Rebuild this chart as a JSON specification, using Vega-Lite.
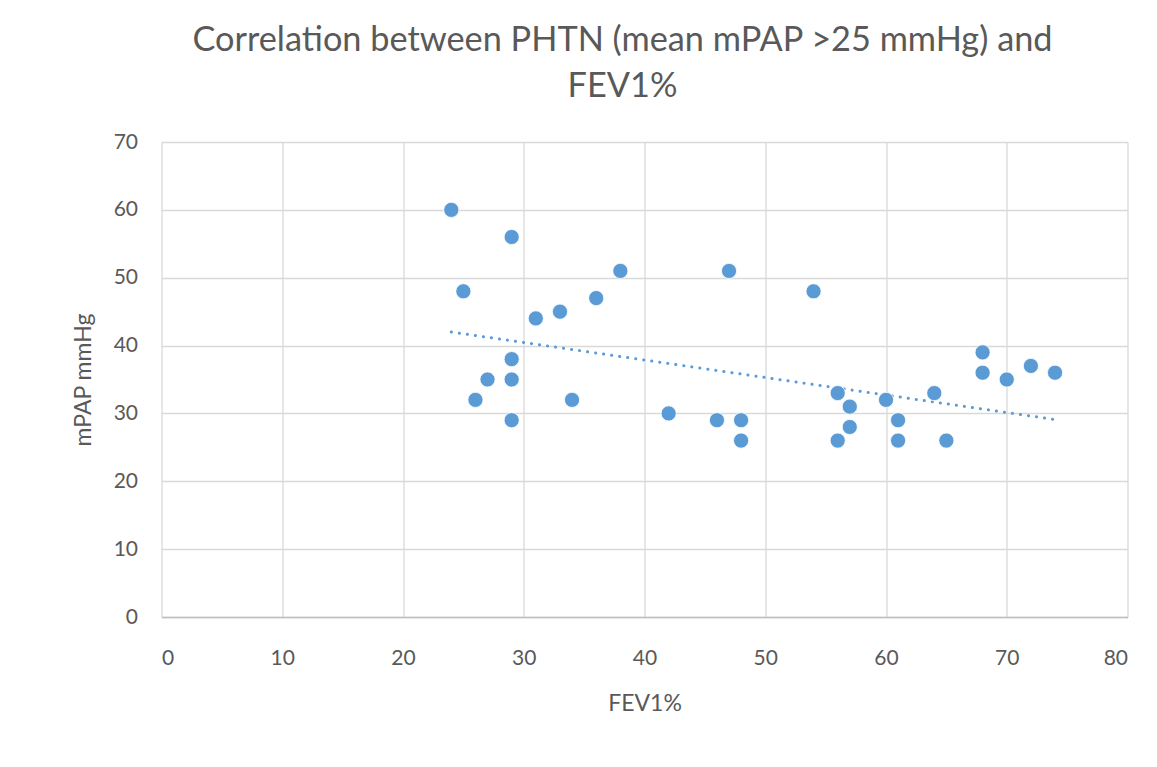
{
  "$schema": "https://vega.github.io/schema/vega-lite/v6.json",
  "autosize": {"type": "none"},
  "width": 966,
  "height": 475,
  "padding": {"left": 161.5, "top": 142, "right": 29.5, "bottom": 150},
  "background": "white",
  "config": {
    "font": "Lato",
    "view": {"stroke": null},
    "axis": {
      "labelColor": "#595959",
      "titleColor": "#595959",
      "labelFont": "Lato",
      "titleFont": "Lato",
      "labelFontSize": 21,
      "titleFontSize": 23,
      "titleFontWeight": "normal",
      "gridColor": "#D9D9D9",
      "gridWidth": 1.3,
      "ticks": false
    }
  },
  "title": {
    "text": ["Correlation between PHTN (mean mPAP >25 mmHg) and", "FEV1%"],
    "font": "Lato",
    "fontSize": 34.3,
    "fontWeight": "normal",
    "color": "#595959",
    "lineHeight": 46,
    "anchor": "middle",
    "dx": -22,
    "offset": 27
  },
  "datasets": {
    "points": [
      {"fev1": 24, "mpap": 60},
      {"fev1": 29, "mpap": 56},
      {"fev1": 25, "mpap": 48},
      {"fev1": 38, "mpap": 51},
      {"fev1": 47, "mpap": 51},
      {"fev1": 54, "mpap": 48},
      {"fev1": 36, "mpap": 47},
      {"fev1": 33, "mpap": 45},
      {"fev1": 31, "mpap": 44},
      {"fev1": 29, "mpap": 38},
      {"fev1": 27, "mpap": 35},
      {"fev1": 29, "mpap": 35},
      {"fev1": 26, "mpap": 32},
      {"fev1": 34, "mpap": 32},
      {"fev1": 29, "mpap": 29},
      {"fev1": 42, "mpap": 30},
      {"fev1": 46, "mpap": 29},
      {"fev1": 48, "mpap": 29},
      {"fev1": 48, "mpap": 26},
      {"fev1": 56, "mpap": 33},
      {"fev1": 57, "mpap": 31},
      {"fev1": 60, "mpap": 32},
      {"fev1": 57, "mpap": 28},
      {"fev1": 56, "mpap": 26},
      {"fev1": 61, "mpap": 29},
      {"fev1": 61, "mpap": 26},
      {"fev1": 64, "mpap": 33},
      {"fev1": 65, "mpap": 26},
      {"fev1": 68, "mpap": 39},
      {"fev1": 68, "mpap": 36},
      {"fev1": 70, "mpap": 35},
      {"fev1": 72, "mpap": 37},
      {"fev1": 74, "mpap": 36}
    ],
    "trend": [
      {"fev1": 24, "mpap": 42.0},
      {"fev1": 74, "mpap": 29.1}
    ]
  },
  "layer": [
    {
      "data": {"name": "trend"},
      "mark": {"type": "line", "color": "#5B9BD5", "strokeWidth": 3, "strokeDash": [0.1, 8], "strokeCap": "round"},
      "encoding": {
        "x": {"field": "fev1", "type": "quantitative"},
        "y": {"field": "mpap", "type": "quantitative"}
      }
    },
    {
      "data": {"name": "points"},
      "mark": {"type": "point", "shape": "circle", "filled": true, "color": "#5B9BD5", "opacity": 1, "size": 230, "stroke": "white", "strokeWidth": 0.8},
      "encoding": {
        "x": {
          "field": "fev1", "type": "quantitative",
          "scale": {"domain": [0, 80], "nice": false, "zero": false},
          "axis": {
            "title": "FEV1%",
            "values": [0, 10, 20, 30, 40, 50, 60, 70, 80],
            "grid": true,
            "domain": true,
            "domainColor": "#BFBFBF",
            "domainWidth": 1.3,
            "labelPadding": 30,
            "titlePadding": 24
          }
        },
        "y": {
          "field": "mpap", "type": "quantitative",
          "scale": {"domain": [0, 70], "nice": false, "zero": false},
          "axis": {
            "title": "mPAP mmHg",
            "values": [0, 10, 20, 30, 40, 50, 60, 70],
            "grid": true,
            "domain": false,
            "labelPadding": 24,
            "titlePadding": 18
          }
        }
      }
    }
  ]
}
